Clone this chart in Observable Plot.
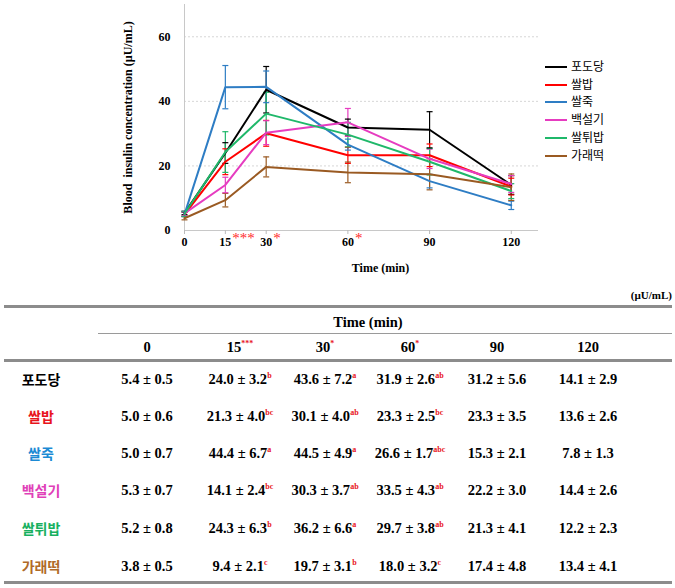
<!DOCTYPE html>
<html>
<head>
<meta charset="utf-8">
<script src="https://cdn.jsdelivr.net/npm/d3@7"></script>
<script src="https://cdn.jsdelivr.net/npm/@observablehq/plot@0.6"></script>
<style>
  html, body { margin: 0; padding: 0; background: #fff; }
  #wrap { position: relative; width: 675px; height: 588px; overflow: hidden; }
  #chart { position: absolute; left: 0; top: 0; }
  .serif { font-family: "Liberation Serif", "Times New Roman", serif; font-weight: bold; }
  .abs { position: absolute; white-space: nowrap; }
  .cell { position: absolute; white-space: nowrap; transform: translate(-50%, -50%); font-family: "Liberation Serif", serif; font-weight: bold; font-size: 14.5px; color: #000; }
  .name { position: absolute; white-space: nowrap; transform: translate(-50%, -50%); font-family: "Noto Sans CJK KR", sans-serif; font-weight: bold; font-size: 14px; }
  sup { font-size: 8px; color: #e8141c; vertical-align: 6px; line-height: 0; }
  .hline { position: absolute; background: #8a8a8a; }
  .leg { position: absolute; font-family: "Noto Sans CJK KR", sans-serif; font-size: 12px; color: #000; line-height: 1; }
  .legline { position: absolute; height: 2px; width: 22px; }
</style>
</head>
<body>
<div id="wrap">
  <div id="chart"></div>
</div>
<script>
// ---------- data ----------
const times = [0, 15, 30, 60, 90, 120];
const groups = ["포도당", "쌀밥", "쌀죽", "백설기", "쌀튀밥", "가래떡"];

const glucoseMean  = [5.4, 24.0, 43.6, 31.9, 31.2, 14.1];
const glucoseSE    = [0.5, 3.2, 7.2, 2.6, 5.6, 2.9];
const riceMean     = [5.0, 21.3, 30.1, 23.3, 23.3, 13.6];
const riceSE       = [0.6, 4.0, 4.0, 2.5, 3.5, 2.6];
const porridgeMean = [5.0, 44.4, 44.5, 26.6, 15.3, 7.8];
const porridgeSE   = [0.7, 6.7, 4.9, 1.7, 2.1, 1.3];
const seolgiMean   = [5.3, 14.1, 30.3, 33.5, 22.2, 14.4];
const seolgiSE     = [0.7, 2.4, 3.7, 4.3, 3.0, 2.6];
const puffedMean   = [5.2, 24.3, 36.2, 29.7, 21.3, 12.2];
const puffedSE     = [0.8, 6.3, 6.6, 3.8, 4.1, 2.3];
const garaeMean    = [3.8, 9.4, 19.7, 18.0, 17.4, 13.4];
const garaeSE      = [0.5, 2.1, 3.1, 3.2, 4.8, 4.1];

const glucoseSig  = ["", "b", "a", "ab", "", ""];
const riceSig     = ["", "bc", "ab", "bc", "", ""];
const porridgeSig = ["", "a", "a", "abc", "", ""];
const seolgiSig   = ["", "bc", "ab", "ab", "", ""];
const puffedSig   = ["", "b", "a", "ab", "", ""];
const garaeSig    = ["", "c", "b", "c", "", ""];

const timeSig = ["", "***", "*", "*", "", ""];
const yTicks = [0, 20, 40, 60];

const lineColors  = ["#000000", "#ff0000", "#2e7dc4", "#e63cc0", "#1fb86a", "#9a5a22"];
const labelColors = ["#000000", "#e8141c", "#1c8ad4", "#e040b8", "#18b060", "#b06a28"];

const means = [glucoseMean, riceMean, porridgeMean, seolgiMean, puffedMean, garaeMean];
const ses = [glucoseSE, riceSE, porridgeSE, seolgiSE, puffedSE, garaeSE];
const sigs = [glucoseSig, riceSig, porridgeSig, seolgiSig, puffedSig, garaeSig];

const rows = groups.flatMap((g, gi) => times.map((t, ti) => ({
  group: g, t, v: means[gi][ti], se: ses[gi][ti]
})));
const sigRows = times.map((t, i) => ({t, s: timeSig[i]})).filter(d => d.s);

const cap = { draw(ctx) { ctx.moveTo(-3, 0); ctx.lineTo(3, 0); } };
const colorScale = {domain: groups, range: lineColors};

const chart = Plot.plot({
  width: 675,
  height: 285,
  marginLeft: 184,
  marginRight: 137,
  marginTop: 4,
  marginBottom: 55,
  style: {fontFamily: "'Liberation Serif', serif", fontWeight: "bold", fontSize: "12px", background: "transparent"},
  x: {domain: [0, 130]},
  y: {domain: [0, 70]},
  color: colorScale,
  marks: [
    Plot.gridY(yTicks.filter(d => d > 0), {stroke: "#d6d6d6", strokeOpacity: 1, strokeDasharray: "2,2"}),
    Plot.ruleY([0], {stroke: "#c8c8c8"}),
    Plot.ruleX([0], {stroke: "#c8c8c8"}),
    Plot.axisY(yTicks, {tickSize: 0, tickPadding: 14, label: "Blood  insulin concentration (µU/mL)", labelAnchor: "center", labelArrow: "none", labelOffset: 61, fontSize: 12}),
    Plot.axisX(times, {tickSize: 4, stroke: "#bbb", tickPadding: 3, label: null, fontSize: 12, fill: "#000"}),
    Plot.text(sigRows, {x: "t", text: "s", frameAnchor: "bottom", dy: 12, dx: 7, textAnchor: "start", fill: "#ff2a2a", fontSize: 15, fontWeight: "normal"}),
    Plot.text(["Time (min)"], {frameAnchor: "bottom", dy: 41, dx: 19, fontSize: 12, fill: "#000"}),
    Plot.ruleX(rows, {x: "t", y1: d => d.v - d.se, y2: d => d.v + d.se, stroke: "group", strokeWidth: 1.2}),
    Plot.dot(rows, {x: "t", y: d => d.v + d.se, symbol: cap, r: 3, stroke: "group", fill: "none", strokeWidth: 1.2}),
    Plot.dot(rows, {x: "t", y: d => d.v - d.se, symbol: cap, r: 3, stroke: "group", fill: "none", strokeWidth: 1.2}),
    Plot.line(rows, {x: "t", y: "v", z: "group", stroke: "group", strokeWidth: 2})
  ]
});
document.getElementById("chart").appendChild(chart);

// ---------- legend ----------
const wrap = document.getElementById("wrap");
const legTop = [67, 85, 102, 120, 138, 156];
groups.forEach((g, i) => {
  const ln = document.createElement("div");
  ln.className = "legline";
  ln.style.left = "545px"; ln.style.top = (legTop[i] - 1) + "px";
  ln.style.background = lineColors[i];
  wrap.appendChild(ln);
  const tx = document.createElement("div");
  tx.className = "leg";
  tx.style.left = "571px"; tx.style.top = (legTop[i] - 7) + "px";
  tx.textContent = g;
  wrap.appendChild(tx);
});

// ---------- table ----------
function hline(x, y, w, h, color) {
  const d = document.createElement("div");
  d.className = "hline";
  d.style.left = x + "px"; d.style.top = y + "px";
  d.style.width = w + "px"; d.style.height = h + "px";
  if (color) d.style.background = color;
  wrap.appendChild(d);
}
function put(cls, x, y, html, color) {
  const d = document.createElement("div");
  d.className = cls;
  d.style.left = x + "px"; d.style.top = y + "px";
  d.innerHTML = html;
  if (color) d.style.color = color;
  wrap.appendChild(d);
  return d;
}
const unit = document.createElement("div");
unit.className = "abs serif";
unit.style.right = "3px"; unit.style.top = "289px"; unit.style.fontSize = "11px";
unit.textContent = "(µU/mL)";
wrap.appendChild(unit);

hline(4, 305, 668, 3, "#8c8c8c");
put("cell", 368, 322, "Time (min)");
hline(98, 333, 574, 1, "#9a9a9a");
hline(4, 359, 668, 3, "#8c8c8c");
hline(4, 581, 668, 3, "#8c8c8c");

const colX = [147, 240, 325, 410, 497, 588];
times.forEach((t, i) => {
  put("cell", colX[i], 347, t + (timeSig[i] ? "<sup>" + timeSig[i] + "</sup>" : ""));
});
const rowY = [379, 416, 453, 490, 528, 566];
groups.forEach((g, gi) => {
  put("name", 41, rowY[gi], g, labelColors[gi]);
  times.forEach((t, ti) => {
    const s = sigs[gi][ti];
    put("cell", colX[ti], rowY[gi],
      means[gi][ti].toFixed(1) + " ± " + ses[gi][ti].toFixed(1) + (s ? "<sup>" + s + "</sup>" : ""));
  });
});
</script>
</body>
</html>
